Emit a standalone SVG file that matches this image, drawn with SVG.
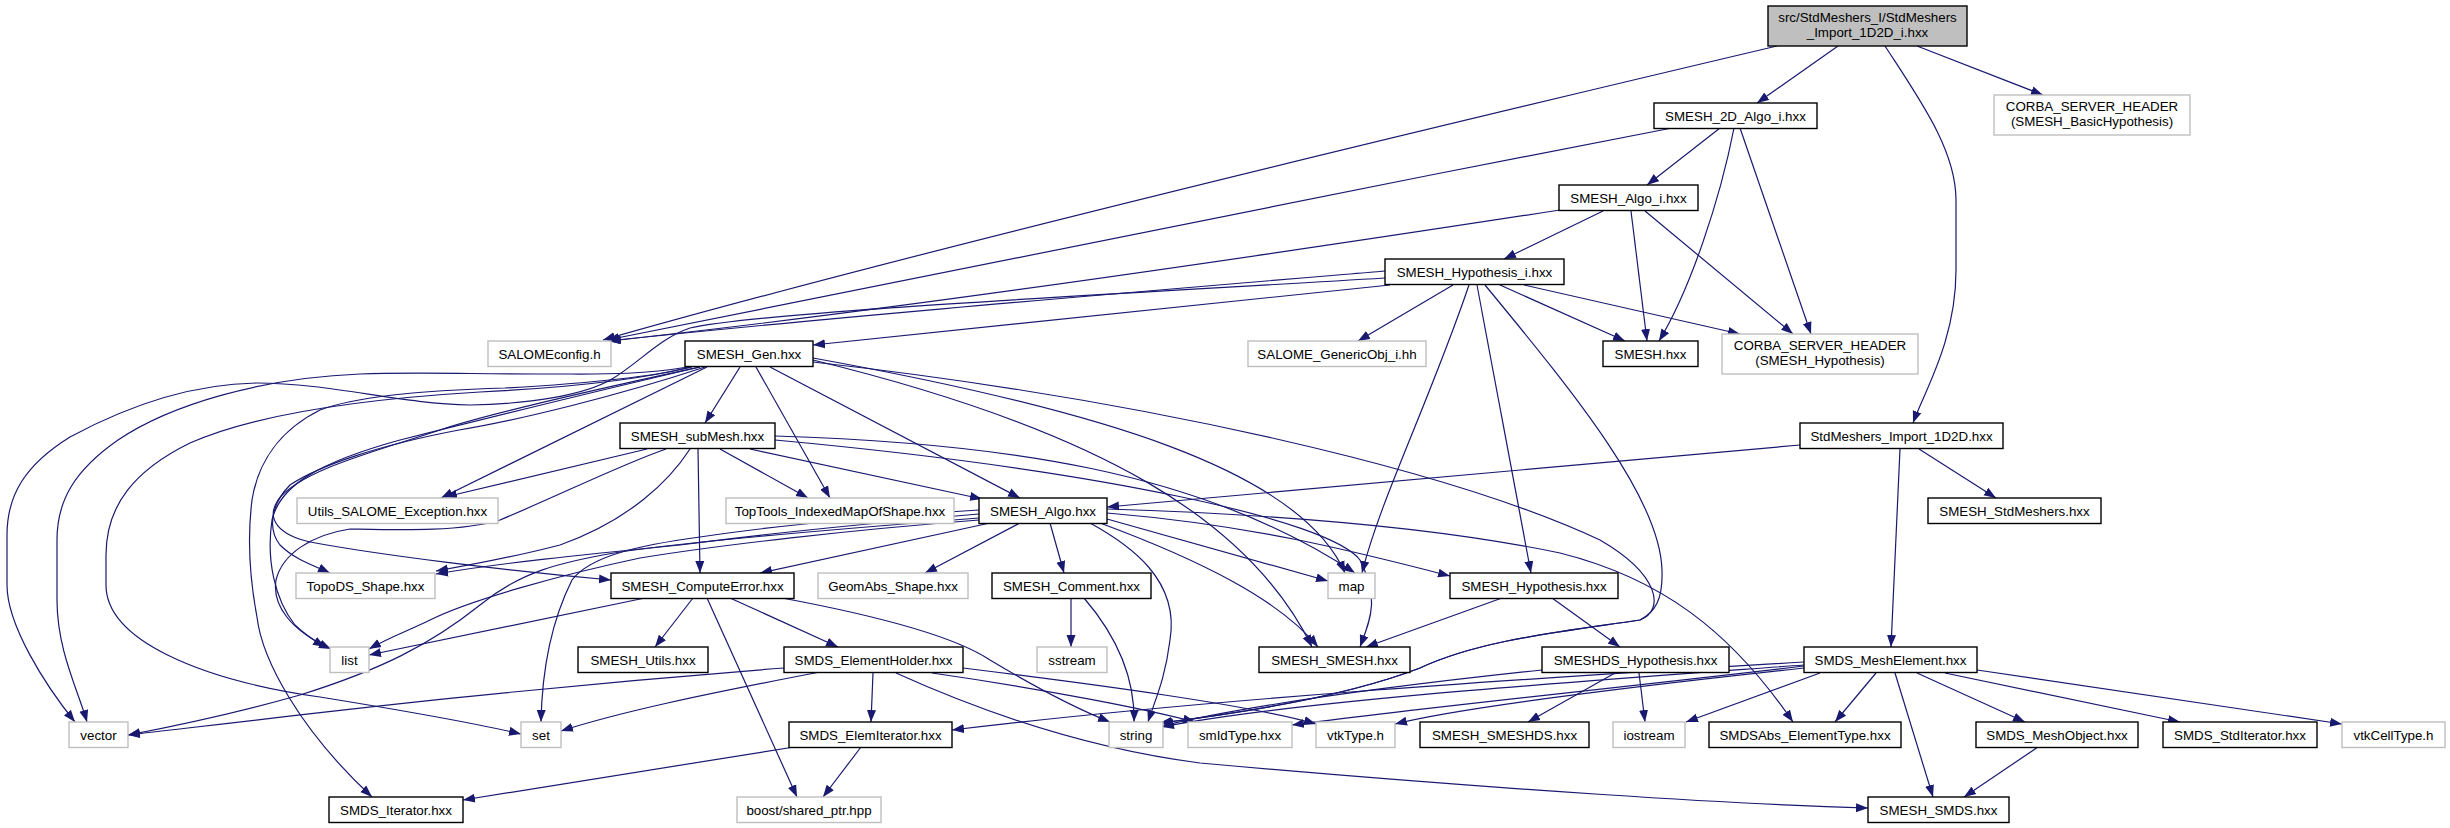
<svg xmlns="http://www.w3.org/2000/svg" width="2450" height="828" viewBox="0 0 2450 828">
<style>
.b rect{fill:#fff;stroke:#000;stroke-width:1.4}
.g rect{fill:#fff;stroke:#bfbfbf;stroke-width:1.4}
.r rect{fill:#bfbfbf;stroke:#000;stroke-width:1.4}
text{font-family:"Liberation Sans",Arial,sans-serif;font-size:13.33px;fill:#000;text-anchor:middle}
#edges path{fill:none;stroke:#191970;stroke-width:1.2;marker-end:url(#ah)}
</style>
<defs>
<marker id="ah" viewBox="0 0 12 10" refX="12" refY="5" markerWidth="12" markerHeight="10" markerUnits="userSpaceOnUse" orient="auto"><path d="M0,0.5L12,5L0,9.5z" fill="#191970"/></marker>
</defs>
<rect width="2450" height="828" fill="#fff"/>
<g id="edges">
<path d="M1777,46 C1400,135 900,255 603,340"/>
<path d="M1838,46 L1757,103"/>
<path d="M1917,46 L2043,95"/>
<path d="M1885,46 C1920,100 1956,150 1956,200 L1956,270 C1956,340 1925,390 1913,423"/>
<path d="M1672,128 C1300,200 900,280 607,340"/>
<path d="M1720,128 L1647,185"/>
<path d="M1734,128 C1720,200 1690,290 1659,341"/>
<path d="M1740,128 L1811,334"/>
<path d="M1560,210 C1300,250 900,310 608,341"/>
<path d="M1603,211 L1504,259"/>
<path d="M1631,211 L1647,341"/>
<path d="M1645,211 L1793,334"/>
<path d="M1385,271 C1100,295 800,320 609,341"/>
<path d="M1390,285 L813,345"/>
<path d="M1453,285 L1358,341"/>
<path d="M1500,285 L1625,341"/>
<path d="M1524,285 L1740,334"/>
<path d="M1469,285 C1430,400 1380,500 1362,573"/>
<path d="M1477,285 L1531,573"/>
<path d="M1485,285 C1580,400 1660,500 1662,570 C1663,600 1655,612 1640,620 C1560,632 1480,640 1420,668 C1350,695 1250,712 1160,723"/>
<path d="M1385,278 C1100,295 760,312 690,328 C660,338 640,362 612,379 C585,395 530,404 470,405 C400,404 330,383 257,383 C185,384 120,410 70,437 C25,465 7,495 7,535 L7,585 C7,625 45,685 75,722"/>
<path d="M740,367 L705,423"/>
<path d="M756,367 L830,498"/>
<path d="M770,367 L1020,498"/>
<path d="M707,367 L441,498"/>
<path d="M688,367 C640,375 600,374 560,374 C470,374 410,372 360,374 C260,378 170,405 118,440 C75,470 57,500 57,540 L57,600 C57,650 78,690 87,722"/>
<path d="M690,367 C640,380 560,388 480,392 C380,398 260,412 190,443 C135,470 106,505 106,555 L106,585 C106,640 200,680 320,697 C400,710 470,722 521,734"/>
<path d="M692,367 C640,380 560,385 505,388 C430,390 360,395 320,410 C280,430 258,462 252,500 C247,540 250,580 257,617 C262,660 300,730 372,797"/>
<path d="M705,367 C620,395 520,420 459,430 C380,445 320,465 290,485 C270,505 268,530 280,545 C295,560 315,566 330,573"/>
<path d="M700,367 C640,380 500,410 440,430 C380,450 300,470 278,500 C265,520 280,535 310,542 C380,555 500,570 611,580"/>
<path d="M700,367 C600,390 480,420 400,440 C320,462 280,485 272,520 C266,560 275,600 295,625 C305,635 315,641 325,647"/>
<path d="M813,358 C1100,410 1300,470 1345,573"/>
<path d="M813,360 C1100,430 1250,520 1312,647"/>
<path d="M813,362 C1150,400 1450,470 1600,540 C1660,575 1665,610 1640,620 C1560,632 1480,640 1420,668 C1350,695 1250,712 1160,723"/>
<path d="M979,514 C850,525 740,537 680,545 C580,555 500,563 436,574"/>
<path d="M979,520 C850,530 720,545 640,558 C560,575 470,600 430,620 C410,630 390,637 369,649"/>
<path d="M979,518 C850,528 700,540 620,552 C560,562 520,572 480,605 C430,645 380,670 300,695 C240,712 180,725 128,735"/>
<path d="M979,510 C850,518 760,528 700,537 C640,545 590,556 572,580 C552,620 542,670 541,722"/>
<path d="M990,523 L760,573"/>
<path d="M1020,523 L925,573"/>
<path d="M1050,523 L1064,573"/>
<path d="M1090,523 C1130,545 1180,580 1170,640 C1165,680 1155,700 1148,722"/>
<path d="M1107,519 L1328,581"/>
<path d="M1107,513 C1250,525 1350,550 1450,576"/>
<path d="M1100,523 C1200,560 1280,600 1318,647"/>
<path d="M1107,509 C1300,515 1450,530 1560,553 C1660,578 1730,630 1793,722"/>
<path d="M647,449 L445,497"/>
<path d="M720,449 L808,498"/>
<path d="M750,449 L982,499"/>
<path d="M698,449 L700,573"/>
<path d="M775,436 C1000,443 1200,470 1355,573"/>
<path d="M775,440 C1100,470 1330,520 1360,560 C1380,600 1370,620 1360,647"/>
<path d="M690,449 C670,480 630,520 560,545 C510,558 470,565 436,571"/>
<path d="M666,449 C620,465 560,495 500,520 C460,532 400,530 350,529 C310,535 282,555 276,580 C272,605 290,630 331,649"/>
<path d="M645,598 L369,655"/>
<path d="M693,598 L655,647"/>
<path d="M730,598 L838,647"/>
<path d="M707,598 L797,797"/>
<path d="M782,598 C900,620 960,640 990,660 C1040,690 1080,710 1110,722"/>
<path d="M784,668 C500,690 300,715 128,735"/>
<path d="M820,672 C700,695 620,712 561,731"/>
<path d="M873,673 L871,722"/>
<path d="M896,673 C1000,720 1100,750 1200,763 C1500,790 1750,805 1868,808"/>
<path d="M932,673 C1050,690 1150,710 1195,722"/>
<path d="M963,668 C1100,685 1250,705 1316,724"/>
<path d="M794,747 L463,800"/>
<path d="M861,747 L823,797"/>
<path d="M1071,598 L1071,647"/>
<path d="M1084,598 C1120,640 1135,680 1134,722"/>
<path d="M1502,598 L1366,647"/>
<path d="M1552,598 L1620,647"/>
<path d="M1615,673 L1528,722"/>
<path d="M1639,673 L1645,722"/>
<path d="M1542,670 C1400,685 1250,705 1162,726"/>
<path d="M1876,673 L1835,722"/>
<path d="M1895,673 L1933,797"/>
<path d="M1917,673 L2025,722"/>
<path d="M1945,673 L2180,722"/>
<path d="M1977,670 L2342,724"/>
<path d="M1804,665 C1600,680 1300,700 1162,727"/>
<path d="M1804,668 C1600,690 1450,710 1395,724"/>
<path d="M1820,673 L1686,722"/>
<path d="M1804,662 C1500,680 1200,700 952,730"/>
<path d="M1804,666 C1600,690 1400,710 1292,725"/>
<path d="M2038,747 L1964,797"/>
<path d="M1800,445 L1107,507"/>
<path d="M1919,449 L1996,498"/>
<path d="M1900,449 L1891,647"/>
</g>
<g id="root" class="r"><rect x="1768" y="6" width="199" height="40"/><text x="1867.5" y="22">src/StdMeshers_I/StdMeshers</text><text x="1867.5" y="37">_Import_1D2D_i.hxx</text></g>
<g id="n2dalgoi" class="b"><rect x="1654" y="103" width="163" height="25.5"/><text x="1735.5" y="120.5">SMESH_2D_Algo_i.hxx</text></g>
<g id="ncorbabasic" class="g"><rect x="1994" y="95" width="196" height="40"/><text x="2092" y="111">CORBA_SERVER_HEADER</text><text x="2092" y="126">(SMESH_BasicHypothesis)</text></g>
<g id="nalgoi" class="b"><rect x="1559" y="185" width="139" height="25.5"/><text x="1628.5" y="202.5">SMESH_Algo_i.hxx</text></g>
<g id="nhypi" class="b"><rect x="1385" y="259" width="179" height="25.5"/><text x="1474.5" y="276.5">SMESH_Hypothesis_i.hxx</text></g>
<g id="nsalomeconfig" class="g"><rect x="488" y="341" width="123" height="25.5"/><text x="549.5" y="358.5">SALOMEconfig.h</text></g>
<g id="ngen" class="b"><rect x="685" y="341" width="128" height="25.5"/><text x="749" y="358.5">SMESH_Gen.hxx</text></g>
<g id="ngenericobj" class="g"><rect x="1248" y="341" width="178" height="25.5"/><text x="1337" y="358.5">SALOME_GenericObj_i.hh</text></g>
<g id="nsmesh" class="b"><rect x="1603" y="341" width="95" height="25.5"/><text x="1650.5" y="358.5">SMESH.hxx</text></g>
<g id="ncorbahyp" class="g"><rect x="1722" y="334" width="196" height="40"/><text x="1820" y="350">CORBA_SERVER_HEADER</text><text x="1820" y="365">(SMESH_Hypothesis)</text></g>
<g id="nsubmesh" class="b"><rect x="620" y="423" width="155" height="25.5"/><text x="697.5" y="440.5">SMESH_subMesh.hxx</text></g>
<g id="nimport" class="b"><rect x="1800" y="423" width="203" height="25.5"/><text x="1901.5" y="440.5">StdMeshers_Import_1D2D.hxx</text></g>
<g id="nutils_exc" class="g"><rect x="297" y="498" width="201" height="25.5"/><text x="397.5" y="515.5">Utils_SALOME_Exception.hxx</text></g>
<g id="ntoptools" class="g"><rect x="726" y="498" width="228" height="25.5"/><text x="840" y="515.5">TopTools_IndexedMapOfShape.hxx</text></g>
<g id="nalgo" class="b"><rect x="979" y="498" width="128" height="25.5"/><text x="1043" y="515.5">SMESH_Algo.hxx</text></g>
<g id="nstdmeshers" class="b"><rect x="1928" y="498" width="173" height="25.5"/><text x="2014.5" y="515.5">SMESH_StdMeshers.hxx</text></g>
<g id="ntopods" class="g"><rect x="296" y="573" width="139" height="25.5"/><text x="365.5" y="590.5">TopoDS_Shape.hxx</text></g>
<g id="ncomputeerror" class="b"><rect x="611" y="573" width="183" height="25.5"/><text x="702.5" y="590.5">SMESH_ComputeError.hxx</text></g>
<g id="ngeomabs" class="g"><rect x="818" y="573" width="150" height="25.5"/><text x="893" y="590.5">GeomAbs_Shape.hxx</text></g>
<g id="ncomment" class="b"><rect x="992" y="573" width="159" height="25.5"/><text x="1071.5" y="590.5">SMESH_Comment.hxx</text></g>
<g id="nmap" class="g"><rect x="1328" y="573" width="47" height="25.5"/><text x="1351.5" y="590.5">map</text></g>
<g id="nhyp" class="b"><rect x="1450" y="573" width="168" height="25.5"/><text x="1534" y="590.5">SMESH_Hypothesis.hxx</text></g>
<g id="nlist" class="g"><rect x="330" y="647" width="39" height="25.5"/><text x="349.5" y="664.5">list</text></g>
<g id="nsmeshutils" class="b"><rect x="578" y="647" width="130" height="25.5"/><text x="643" y="664.5">SMESH_Utils.hxx</text></g>
<g id="nelemholder" class="b"><rect x="784" y="647" width="179" height="25.5"/><text x="873.5" y="664.5">SMDS_ElementHolder.hxx</text></g>
<g id="nsstream" class="g"><rect x="1037" y="647" width="70" height="25.5"/><text x="1072" y="664.5">sstream</text></g>
<g id="nsmesh_smesh" class="b"><rect x="1259" y="647" width="151" height="25.5"/><text x="1334.5" y="664.5">SMESH_SMESH.hxx</text></g>
<g id="nsmeshdshyp" class="b"><rect x="1542" y="647" width="187" height="25.5"/><text x="1635.5" y="664.5">SMESHDS_Hypothesis.hxx</text></g>
<g id="nmeshelement" class="b"><rect x="1804" y="647" width="173" height="25.5"/><text x="1890.5" y="664.5">SMDS_MeshElement.hxx</text></g>
<g id="nvector" class="g"><rect x="69" y="722" width="59" height="25.5"/><text x="98.5" y="739.5">vector</text></g>
<g id="nset" class="g"><rect x="521" y="722" width="40" height="25.5"/><text x="541" y="739.5">set</text></g>
<g id="nelemiter" class="b"><rect x="789" y="722" width="163" height="25.5"/><text x="870.5" y="739.5">SMDS_ElemIterator.hxx</text></g>
<g id="nstring" class="g"><rect x="1109" y="722" width="54" height="25.5"/><text x="1136" y="739.5">string</text></g>
<g id="nsmidtype" class="g"><rect x="1188" y="722" width="104" height="25.5"/><text x="1240" y="739.5">smIdType.hxx</text></g>
<g id="nvtktype" class="g"><rect x="1316" y="722" width="79" height="25.5"/><text x="1355.5" y="739.5">vtkType.h</text></g>
<g id="nsmeshds" class="b"><rect x="1420" y="722" width="169" height="25.5"/><text x="1504.5" y="739.5">SMESH_SMESHDS.hxx</text></g>
<g id="niostream" class="g"><rect x="1613" y="722" width="72" height="25.5"/><text x="1649" y="739.5">iostream</text></g>
<g id="nsmdsabs" class="b"><rect x="1709" y="722" width="192" height="25.5"/><text x="1805" y="739.5">SMDSAbs_ElementType.hxx</text></g>
<g id="nmeshobject" class="b"><rect x="1976" y="722" width="162" height="25.5"/><text x="2057" y="739.5">SMDS_MeshObject.hxx</text></g>
<g id="nstditer" class="b"><rect x="2163" y="722" width="154" height="25.5"/><text x="2240" y="739.5">SMDS_StdIterator.hxx</text></g>
<g id="nvtkcelltype" class="g"><rect x="2342" y="722" width="103" height="25.5"/><text x="2393.5" y="739.5">vtkCellType.h</text></g>
<g id="nsmdsiter" class="b"><rect x="329" y="797" width="134" height="25.5"/><text x="396" y="814.5">SMDS_Iterator.hxx</text></g>
<g id="nboost" class="g"><rect x="737" y="797" width="144" height="25.5"/><text x="809" y="814.5">boost/shared_ptr.hpp</text></g>
<g id="nsmeshsmds" class="b"><rect x="1868" y="797" width="141" height="25.5"/><text x="1938.5" y="814.5">SMESH_SMDS.hxx</text></g>
</svg>
